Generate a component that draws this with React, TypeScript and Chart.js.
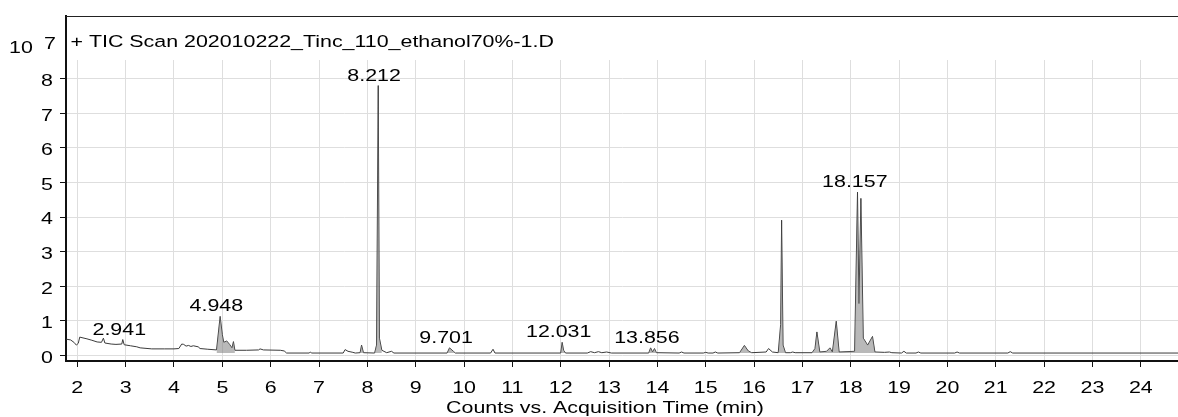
import { useEffect, useRef } from 'react';
import { Chart, registerables } from 'chart.js';
Chart.register(...registerables);

const FONT = '"Liberation Sans", Arial, sans-serif';
const STRETCH = 1.23;

// Acquisition time (min)
const times = [
  1.77, 1.86, 1.93, 1.98, 2.02, 2.05, 2.2, 2.3, 2.41, 2.5, 2.54, 2.57, 2.7, 2.8, 2.92, 2.94, 2.97,
  3.1, 3.23, 3.3, 3.54, 3.8, 4.0, 4.1, 4.16, 4.2, 4.25, 4.3, 4.35, 4.4, 4.5, 4.54, 4.7, 4.88,
  4.955, 5.0, 5.03, 5.09, 5.15, 5.2, 5.23, 5.26, 5.5, 5.75, 5.78, 5.85, 6.2, 6.28, 6.33, 6.8,
  6.82, 6.85, 7.5, 7.54, 7.6, 7.7, 7.75, 7.85, 7.88, 7.92, 8.15, 8.19, 8.225, 8.25, 8.3, 8.4,
  8.5, 8.55, 9.65, 9.7, 9.78, 9.82, 10.55, 10.6, 10.64, 12.0, 12.03, 12.06, 12.1, 12.55, 12.62,
  12.7, 12.78, 12.85, 12.95, 13.05, 13.82, 13.86, 13.9, 13.94, 13.98, 14.45, 14.5, 14.55, 14.95,
  15.0, 15.05, 15.15, 15.2, 15.25, 15.7, 15.8, 15.88, 15.95, 16.25, 16.3, 16.38, 16.5, 16.55,
  16.57, 16.6, 16.65, 16.75, 16.8, 16.85, 17.2, 17.26, 17.3, 17.36, 17.5, 17.57, 17.62, 17.7,
  17.76, 18.08, 18.14, 18.17, 18.21, 18.26, 18.35, 18.45, 18.5, 18.7, 18.8, 18.85, 19.05, 19.1,
  19.15, 19.35, 19.4, 19.45, 20.15, 20.2, 20.25, 21.25, 21.3, 21.35, 24.77,
];

// Counts (x10^7)
const counts = [
  0.47, 0.45, 0.38, 0.3, 0.35, 0.53, 0.48, 0.44, 0.39, 0.38, 0.5, 0.36, 0.33, 0.32, 0.33, 0.46, 0.31,
  0.28, 0.25, 0.22, 0.19, 0.19, 0.19, 0.2, 0.33, 0.32, 0.27, 0.29, 0.26, 0.28, 0.25, 0.2, 0.18, 0.16,
  1.13, 0.6, 0.38, 0.42, 0.32, 0.22, 0.4, 0.15, 0.15, 0.16, 0.19, 0.16, 0.15, 0.13, 0.07, 0.07,
  0.1, 0.07, 0.07, 0.17, 0.12, 0.09, 0.07, 0.08, 0.3, 0.08, 0.07, 0.3, 7.8, 0.5, 0.15, 0.08,
  0.12, 0.07, 0.07, 0.22, 0.12, 0.07, 0.07, 0.18, 0.07, 0.07, 0.38, 0.15, 0.07, 0.07, 0.11,
  0.08, 0.11, 0.08, 0.1, 0.07, 0.07, 0.22, 0.1, 0.2, 0.08, 0.07, 0.1, 0.07, 0.07,
  0.09, 0.07, 0.07, 0.1, 0.07, 0.08, 0.29, 0.13, 0.08, 0.1, 0.2, 0.1, 0.08, 0.9,
  3.91, 0.3, 0.08, 0.08, 0.1, 0.08, 0.08, 0.2, 0.68, 0.1, 0.12, 0.22, 0.1, 0.99,
  0.1, 0.12, 4.72, 1.5, 4.54, 0.5, 0.3, 0.55, 0.1, 0.09, 0.1, 0.08, 0.07, 0.12,
  0.07, 0.07, 0.1, 0.07, 0.07, 0.1, 0.07, 0.07, 0.11, 0.07, 0.07,
];

// Integrated (shaded) peak windows, [start, end] in minutes
const shadedWindows = [
  [4.88, 5.26], [7.85, 7.92], [8.15, 8.3], [9.65, 9.82], [12.0, 12.1], [13.82, 13.98],
  [15.7, 15.95], [16.5, 16.65], [17.2, 17.36], [17.5, 17.76], [18.08, 18.5],
];

const peakLabelTimes = [2.941, 4.948, 8.212, 9.701, 12.031, 13.856, 18.157];
const peakLabelCounts = [0.46, 1.13, 7.8, 0.22, 0.38, 0.22, 4.72];
const peakLabelTexts = ['2.941', '4.948', '8.212', '9.701', '12.031', '13.856', '18.157'];

const xTicks = [2, 3, 4, 5, 6, 7, 8, 9, 10, 11, 12, 13, 14, 15, 16, 17, 18, 19, 20, 21, 22, 23, 24];
const yTicks = [0, 1, 2, 3, 4, 5, 6, 7, 8];

const chartTitle = '+ TIC Scan 202010222_Tinc_110_ethanol70%-1.D';
const xAxisTitle = 'Counts vs. Acquisition Time (min)';

function drawText(ctx: CanvasRenderingContext2D, text: string, x: number, y: number, align: CanvasTextAlign) {
  ctx.save();
  ctx.translate(x, y);
  ctx.scale(STRETCH, 1);
  ctx.textAlign = align;
  ctx.textBaseline = 'alphabetic';
  ctx.fillText(text, 0, 0);
  ctx.restore();
}

export default function App() {
  const ref = useRef<HTMLCanvasElement>(null);
  useEffect(() => {
    if (!ref.current) return;
    const main = times.map((t, i) => ({ x: t, y: counts[i] }));
    const shaded = times.map((t, i) => ({
      x: t,
      y: shadedWindows.some(([a, b]) => t >= a && t <= b) ? counts[i] : null,
    }));

    const overlay = {
      id: 'overlay',
      beforeDatasetsDraw(chart: any) {
        const { ctx, chartArea: a } = chart;
        ctx.save();
        ctx.fillStyle = '#ffffff';
        ctx.fillRect(a.left + 2, a.top + 1, a.right - a.left, 43);
        ctx.restore();
      },
      afterDraw(chart: any) {
        const { ctx, chartArea: a, scales } = chart;
        ctx.save();
        // top frame line
        ctx.strokeStyle = '#222';
        ctx.lineWidth = 1;
        ctx.beginPath();
        ctx.moveTo(a.left, a.top + 0.5);
        ctx.lineTo(a.right, a.top + 0.5);
        ctx.stroke();
        ctx.fillStyle = '#000';
        ctx.font = `17.4px ${FONT}`;
        drawText(ctx, chartTitle, a.left + 4.5, 46.5, 'left');
        // exponent
        drawText(ctx, '10', 9, 53.3, 'left');
        drawText(ctx, '7', 44, 49, 'left');
        // tick labels
        xTicks.forEach((v) => {
          drawText(ctx, String(v), scales.x.getPixelForValue(v), 392.7, 'center');
        });
        yTicks.forEach((v) => {
          drawText(ctx, String(v), 53, scales.y.getPixelForValue(v) + 7.3, 'right');
        });
        // peak labels
        peakLabelTimes.forEach((t, i) => {
          const px = scales.x.getPixelForValue(t);
          const py = scales.y.getPixelForValue(peakLabelCounts[i]);
          drawText(ctx, peakLabelTexts[i], px - 3.5, py - 5, 'center');
        });
        // x axis title
        drawText(ctx, xAxisTitle, 605, 412.5, 'center');
        ctx.restore();
      },
    };

    const chart = new Chart(ref.current, {
      type: 'line',
      data: {
        datasets: [
          {
            data: shaded as any,
            borderWidth: 0,
            borderColor: 'rgba(0,0,0,0)',
            backgroundColor: 'rgba(128,128,128,0.55)',
            pointRadius: 0,
            fill: { value: 0.07 } as any,
            spanGaps: false,
            tension: 0,
          },
          {
            data: main as any,
            borderWidth: 1,
            borderColor: '#3a3a3a',
            pointRadius: 0,
            fill: false,
            tension: 0,
          },
        ],
      },
      options: {
        responsive: false,
        animation: false,
        events: [],
        layout: { padding: { left: 0, right: 0, top: 16, bottom: 0 } },
        plugins: { legend: { display: false }, tooltip: { enabled: false }, title: { display: false } },
        scales: {
          x: {
            type: 'linear',
            min: 1.766,
            max: 24.77,
            afterBuildTicks: (s: any) => {
              s.ticks = xTicks.map((v) => ({ value: v }));
            },
            afterFit: (s: any) => {
              s.height = 56;
            },
            grid: { color: '#dedede', lineWidth: 1, tickColor: '#111', tickLength: 6, drawTicks: true },
            border: { display: true, color: '#111', width: 2 },
            ticks: { display: false, autoSkip: false },
          },
          y: {
            type: 'linear',
            min: -0.16,
            max: 9.81,
            afterBuildTicks: (s: any) => {
              s.ticks = yTicks.map((v) => ({ value: v }));
            },
            afterFit: (s: any) => {
              s.width = 66;
            },
            grid: { color: '#dedede', lineWidth: 1, tickColor: '#111', tickLength: 6, drawTicks: true },
            border: { display: true, color: '#111', width: 2 },
            ticks: { display: false, autoSkip: false },
          },
        },
      },
      plugins: [overlay],
    });
    return () => chart.destroy();
  }, []);
  return (
    <div style={{ position: 'fixed', left: 0, top: 0, width: 1178, height: 417, background: '#fff' }}>
      <canvas ref={ref} width={1178} height={417} style={{ width: 1178, height: 417, display: 'block' }} />
    </div>
  );
}
